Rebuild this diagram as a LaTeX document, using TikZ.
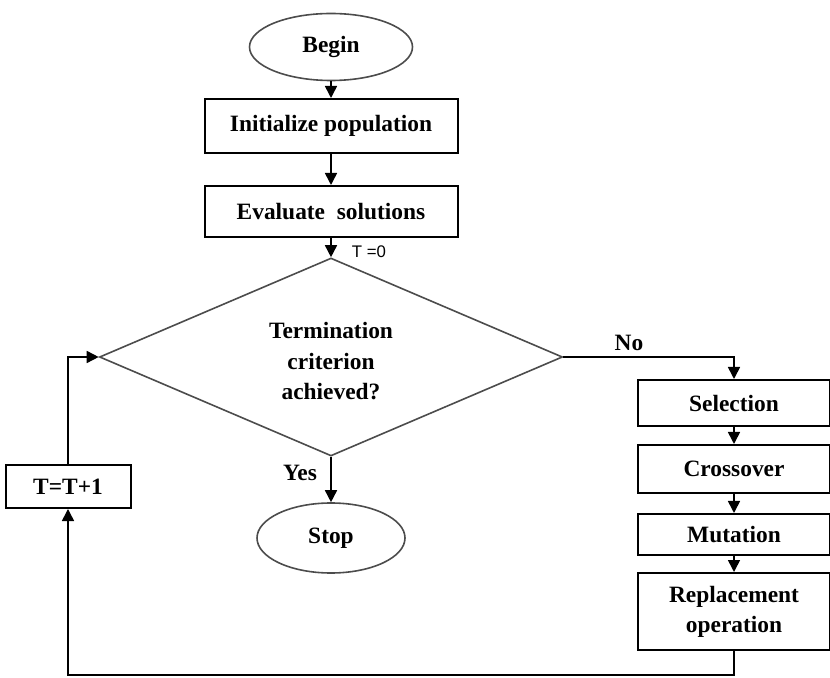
\documentclass[tikz,border=0pt]{standalone}
\usepackage{fontspec}
\setmainfont{Liberation Serif}
\setsansfont{Liberation Sans}
\usetikzlibrary{shapes.geometric, arrows.meta, positioning}
\tikzset{
  stepbox/.style={
    rectangle, draw=black, line width=1pt,
    align=center, inner sep=0pt,
    font=\fontsize{11.7}{15}\selectfont\bfseries
  },
  terminal/.style={
    ellipse, draw=black!70, line width=0.8pt,
    inner sep=0pt,
    font=\fontsize{11.7}{15}\selectfont\bfseries
  },
  decision/.style={
    diamond, draw=black!70, line width=0.8pt, aspect=2.3,
    inner sep=0pt,
    font=\fontsize{11.7}{15.2}\selectfont\bfseries
  },
  flow/.style={
    line width=0.8pt, -{Triangle[width=6pt,length=6pt]}
  },
  lbl/.style={
    font=\fontsize{11.7}{15}\selectfont\bfseries
  },
  counter/.style={
    font=\fontsize{8.4}{10}\selectfont\sffamily
  }
}

\begin{document}
\begin{tikzpicture}[x=0.5pt, y=-0.5pt]
  \useasboundingbox (0,0) rectangle (830,678);
  % main column
  \node[terminal, minimum width=81.5pt, minimum height=33.5pt] (begin) at (331,47) {Begin};
  \node[stepbox, minimum width=126.5pt, minimum height=27pt] (init) at (331,126) {Initialize population};
  \node[stepbox, minimum width=126.5pt, minimum height=25.5pt] (eval) at (331,211.5) {Evaluate\ \ solutions};
  \node[decision, minimum width=231.5pt, minimum height=99pt] (cond) at (331,357)
    {\raisebox{-6pt}[0pt][0pt]{\begin{tabular}{@{}c@{}}Termination\\criterion\\achieved?\end{tabular}}};
  \node[terminal, minimum width=74pt, minimum height=35pt] (stop) at (331,538) {Stop};
  % operators
  \node[stepbox, minimum width=96pt, minimum height=23pt] (sel) at (734,403) {Selection};
  \node[stepbox, minimum width=96pt, minimum height=24pt] (cross) at (734,469) {Crossover};
  \node[stepbox, minimum width=96pt, minimum height=20.5pt] (mut) at (734,534.5) {Mutation};
  \node[stepbox, minimum width=96pt, minimum height=38.5pt] (repl) at (734,611.5) {Replacement\\operation};
  \node[stepbox, minimum width=62.5pt, minimum height=21.5pt] (tinc) at (68,486.5) {T=T+1};
  % labels
  \node[counter] (tzero) at (369,252) {T =0};
  \node[lbl] (nolbl) at (629,343) {No};
  \node[lbl] (yeslbl) at (300,473) {Yes};
  \coordinate (back) at (734,675);
  % connectors
  \draw[flow] (begin) -- (init);
  \draw[flow] (init) -- (eval);
  \draw[flow] (eval) -- (cond);
  \draw[flow] (cond.east) -| (sel.north);
  \draw[flow] (sel) -- (cross);
  \draw[flow] (cross) -- (mut);
  \draw[flow] (mut) -- (repl);
  \draw[flow] (repl.south) -- (back) -| (tinc.south);
  \draw[flow] (tinc.north) |- (cond.west);
  \draw[flow] (cond.south) -- (stop.north);
\end{tikzpicture}
\end{document}
